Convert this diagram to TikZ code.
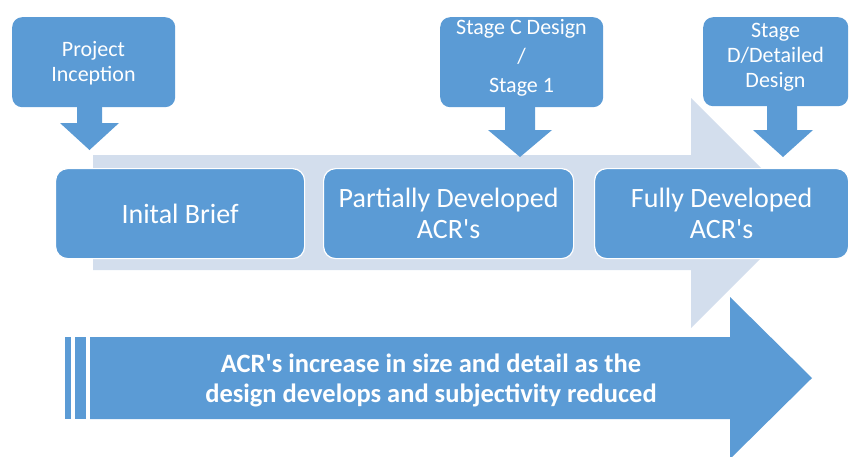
\documentclass[tikz,border=0pt]{standalone}
\usepackage{fontspec}
\setmainfont{Carlito}
\definecolor{blu}{HTML}{5B9BD5}
\definecolor{lite}{HTML}{D3DEED}
\newcommand{\apos}{\textquotesingle}
\begin{document}
\begin{tikzpicture}[x=1pt,y=-1pt,
  callbox/.style={fill=blu, rounded corners=10pt, inner sep=0pt, anchor=north west},
  procbox/.style={fill=blu, draw=white, line width=1.2pt, rounded corners=12pt, inner sep=0pt, anchor=north west, minimum height=90pt},
  ctext/.style={text=white, font=\fontsize{22}{25}\selectfont, align=center, inner sep=0pt},
  ptext/.style={text=white, font=\fontsize{28}{31}\selectfont, align=center, inner sep=0pt},
  btext/.style={text=white, font=\bfseries\fontsize{26.5}{30}\selectfont, align=center, inner sep=0pt}
]
\useasboundingbox (0,0) rectangle (853,456);
\begin{scope}
\clip (0,0) rectangle (853,456);
% light background arrow
\fill[lite] (93,155) -- (691,155) -- (691,98) -- (806,213) -- (691,328) -- (691,270) -- (93,270) -- cycle;

% callouts
\node[callbox, minimum width=163pt, minimum height=90pt] (c1) at (12,17) {};
\fill[blu] (77,105) -- (102,105) -- (102,123) -- (119,123) -- (89.5,150) -- (60,123) -- (77,123) -- cycle;
\node[ctext] (t1) at (93.5,63) {Project\\Inception};

\node[callbox, minimum width=163pt, minimum height=90pt] (c2) at (440,17) {};
\fill[blu] (505,105) -- (535,105) -- (535,130) -- (552,130) -- (520,157) -- (488,130) -- (505,130) -- cycle;
\node[ctext, font=\fontsize{22}{29}\selectfont] (t2) at (521.5,58) {Stage C Design\\/\\Stage 1};

\node[callbox, minimum width=145pt, minimum height=89pt] (c3) at (703,17) {};
\fill[blu] (767,104) -- (797,104) -- (797,130) -- (813,130) -- (783,157) -- (753,130) -- (767,130) -- cycle;
\node[ctext] (t3) at (775.5,57) {Stage\\D/Detailed\\Design};

% process boxes
\node[procbox, minimum width=249pt] (p1) at (55,168) {};
\node[ptext] (q1) at (p1.center) {Inital Brief};
\node[procbox, minimum width=250pt] (p2) at (323,168) {};
\node[ptext] (q2) at (p2.center) {Partially Developed\\ACR\apos s};
\node[procbox, minimum width=254pt] (p3) at (594,168) {};
\node[ptext] (q3) at (p3.center) {Fully Developed\\ACR\apos s};

% bottom arrow
\fill[blu] (65,337) rectangle (71,419);
\fill[blu] (75,337) rectangle (86,419);
\fill[blu] (90,337) -- (730,337) -- (730,297) -- (812,378) -- (730,459) -- (730,419) -- (90,419) -- cycle;
\node[btext] (b) at (431,380) {ACR\apos s increase in size and detail as the\\design develops and subjectivity reduced};
\end{scope}
\end{tikzpicture}
\end{document}
